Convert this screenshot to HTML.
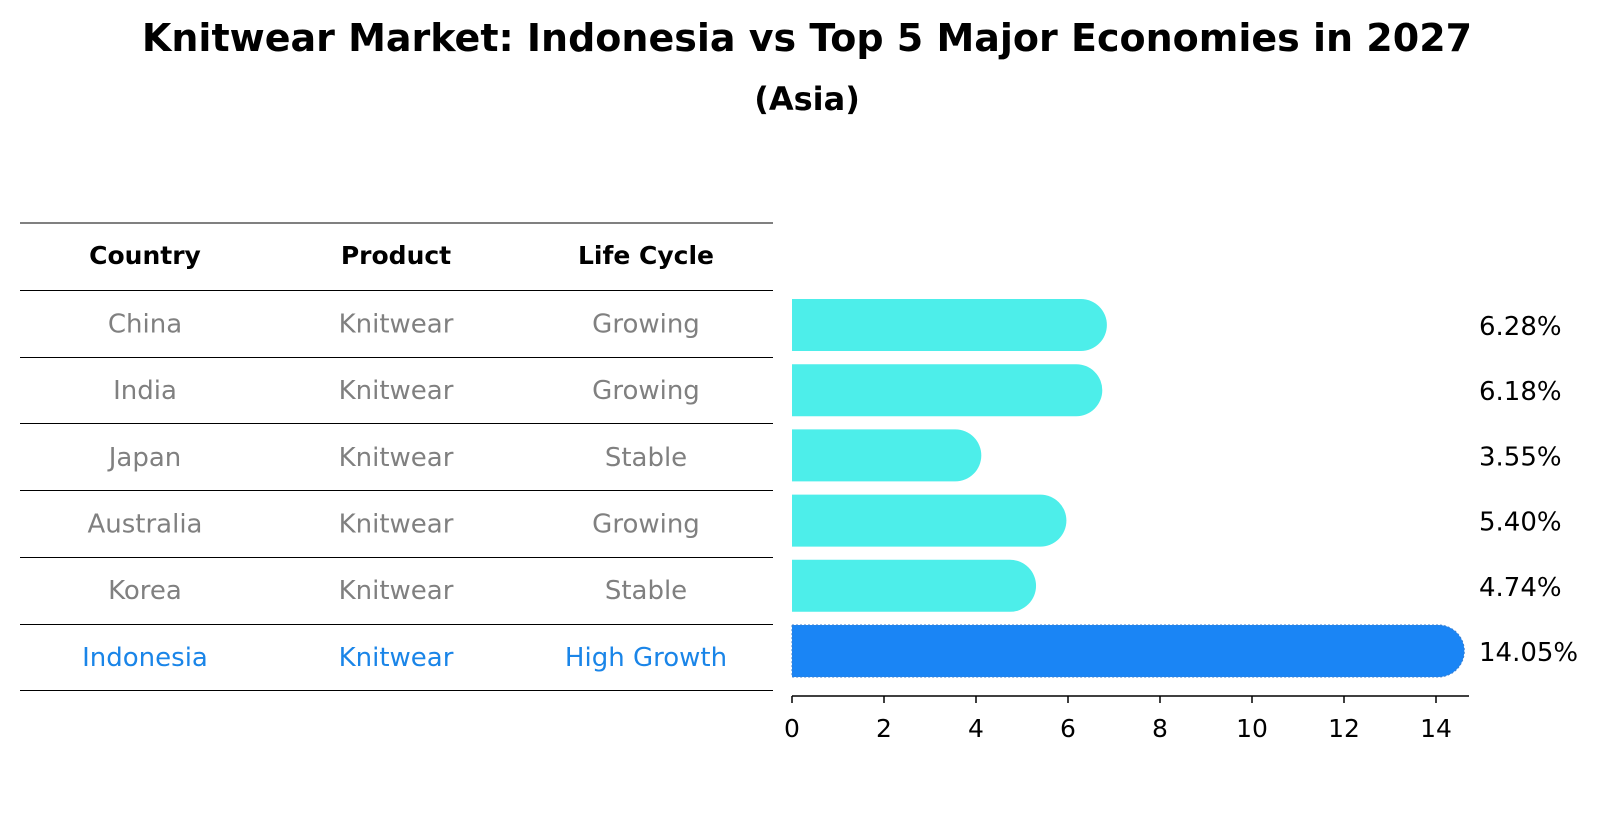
<!DOCTYPE html>
<html><head><meta charset="utf-8"><style>
body{margin:0;background:#fff;}
svg text{font-family:"DejaVu Sans","Liberation Sans",sans-serif;}
</style></head><body>
<svg id="chart" width="1604" height="823" xmlns="http://www.w3.org/2000/svg">
<text x="807" y="51" text-anchor="middle" font-size="38" font-weight="bold">Knitwear Market: Indonesia vs Top 5 Major Economies in 2027</text>
<text x="807" y="110" text-anchor="middle" font-size="32" font-weight="bold">(Asia)</text>
<g id="table"></g>
<g id="bars"></g>
</svg>
<script>
const countries=["China","India","Japan","Australia","Korea","Indonesia"];
const products=["Knitwear","Knitwear","Knitwear","Knitwear","Knitwear","Knitwear"];
const lifeCycles=["Growing","Growing","Stable","Growing","Stable","High Growth"];
const growth=[6.28,6.18,3.55,5.40,4.74,14.05];
const xTicks=[0,2,4,6,8,10,12,14];

const NS="http://www.w3.org/2000/svg";
function mk(tag,attrs,parent){const e=document.createElementNS(NS,tag);for(const k in attrs)e.setAttribute(k,attrs[k]);parent.appendChild(e);return e;}
const x0=792,pxPerUnit=46;
function xs(v){return x0+v*pxPerUnit;}
const rowY0=325,rowStep=65.2;
function ys(i){return rowY0+i*rowStep;}
const tRow0=290,tStep=66.7;
function ty(i){return tRow0+i*tStep;}

// table
const tbl=document.getElementById('table');
const lineYs=[223];
for(let i=0;i<=countries.length;i++)lineYs.push(Math.round(ty(i))+0.5);
lineYs.forEach(y=>{const l=mk('line',{x1:20,x2:773,y1:y,y2:y,stroke:'#000','stroke-width':1},tbl);

});
const colX=[145,396,646];
["Country","Product","Life Cycle"].forEach((h,j)=>{const t=mk('text',{x:colX[j],y:264,'text-anchor':'middle','font-size':25,'font-weight':'bold'},tbl);t.textContent=h;

});
countries.forEach((c,i)=>{
 const col=i===countries.length-1?'#1a85e8':'#808080';
 const cy=ty(i)+tStep/2;
 [c,products[i],lifeCycles[i]].forEach((v,j)=>{
  const t=mk('text',{x:colX[j],y:cy+9,'text-anchor':'middle','font-size':26,fill:col},tbl);t.textContent=v;
  
  
 });
});

// bars
const g=document.getElementById('bars');
const h=52,r=26;
growth.forEach((v,i)=>{
 const hi=i===growth.length-1;
 const col=hi?'#1a85f5':'#4deeea';
 const y=ys(i);const xe=xs(v);
 const p=mk('path',{d:`M${x0},${y-h/2} L${xe},${y-h/2} A${r},${r} 0 0 1 ${xe},${y+h/2} L${x0},${y+h/2} Z`,fill:col},g);
 if(hi){p.setAttribute('stroke','#3a7fd0');p.setAttribute('stroke-dasharray','2,2');p.setAttribute('stroke-width','1');}
 
 
 const t=mk('text',{x:1479,y:y+10,'font-size':26},g);t.textContent=v.toFixed(2)+'%';
 
 
});
const ax=mk('line',{x1:x0,x2:1469,y1:696,y2:696,stroke:'#000','stroke-width':1.5},g);


xTicks.forEach(v=>{
 const tk=mk('line',{x1:xs(v),x2:xs(v),y1:696,y2:703,stroke:'#000','stroke-width':1.5},g);
 
 
 const t=mk('text',{x:xs(v),y:737,'text-anchor':'middle','font-size':25},g);t.textContent=v;
 
 
});
</script>
</body></html>
